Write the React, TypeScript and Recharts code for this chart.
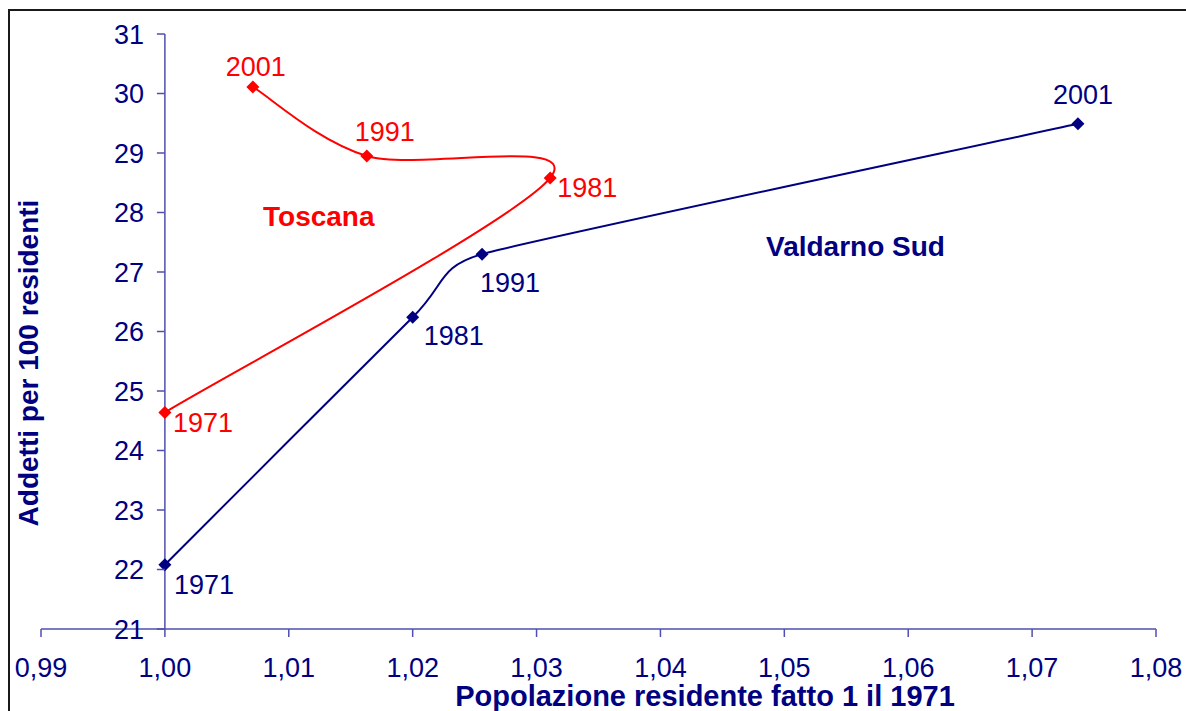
// Addetti per 100 residenti vs popolazione (1971 = 1), Toscana e Valdarno Sud.
// Excel-style chart: smoothed lines, diamond markers, Y axis crossing at 1,00.
import { ReferenceLine, Scatter, ScatterChart, XAxis, YAxis } from "recharts";

const years = ["1971", "1981", "1991", "2001"];
const toscanaPop = [1.0, 1.0311, 1.0163, 1.0071];
const toscanaAddetti = [24.64, 28.58, 28.95, 30.11];
const valdarnoPop = [1.0, 1.02, 1.0256, 1.0737];
const valdarnoAddetti = [22.08, 26.24, 27.3, 29.49];
const xTicks = [0.99, 1.0, 1.01, 1.02, 1.03, 1.04, 1.05, 1.06, 1.07, 1.08];
const yTicks = [21, 22, 23, 24, 25, 26, 27, 28, 29, 30, 31];

const FONT = '"Liberation Sans", Arial, sans-serif';
const NAVY = "#000080";
const RED = "#FF0000";
const AXIS = "#4f4fae";

const W = 1186;
const H = 711;
const MARGIN = { top: 34, right: 30, bottom: 32, left: 0 };
const Y_AXIS_W = 41;
const X_DOMAIN: [number, number] = [0.99, 1.08];
// pixel x of the value axis (it crosses the category axis at 1,00)
const PLOT_W = W - MARGIN.left - MARGIN.right - Y_AXIS_W;
const AXIS_X = MARGIN.left + Y_AXIS_W + ((1.0 - X_DOMAIN[0]) / (X_DOMAIN[1] - X_DOMAIN[0])) * PLOT_W;

const toscana = years.map((year, i) => ({ year, x: toscanaPop[i], y: toscanaAddetti[i] }));
const valdarno = years.map((year, i) => ({ year, x: valdarnoPop[i], y: valdarnoAddetti[i] }));

type Place = { dx: number; dy: number; anchor: "start" | "middle" };
const toscanaLabels: Record<string, Place> = {
  "1971": { dx: 8, dy: 20, anchor: "start" },
  "1981": { dx: 7, dy: 19, anchor: "start" },
  "1991": { dx: -12, dy: -15, anchor: "start" },
  "2001": { dx: 3, dy: -11, anchor: "middle" },
};
const valdarnoLabels: Record<string, Place> = {
  "1971": { dx: 9, dy: 29, anchor: "start" },
  "1981": { dx: 11, dy: 28, anchor: "start" },
  "1991": { dx: -2, dy: 38, anchor: "start" },
  "2001": { dx: 5, dy: -20, anchor: "middle" },
};

const fmt = (v: number) => v.toFixed(2).replace(".", ",");

type Pt = { x: number; y: number };
const dist = (a: Pt, b: Pt) => Math.hypot(b.x - a.x, b.y - a.y);

// Tangent handle at p1 (Catmull-Rom 1/6), capped at half of the
// neighbouring segments the way Excel's smoothing does.
function handle(p0: Pt, p1: Pt, p2: Pt): Pt {
  const d02 = dist(p0, p2);
  if (d02 === 0) return { x: 0, y: 0 };
  const len = Math.min(d02 / 6, dist(p0, p1) / 2 || Infinity, dist(p1, p2) / 2 || Infinity);
  return { x: ((p2.x - p0.x) / d02) * len, y: ((p2.y - p0.y) / d02) * len };
}

function smoothPath(pts: Pt[]): string {
  if (pts.length === 0) return "";
  let d = `M${pts[0].x},${pts[0].y}`;
  for (let i = 0; i < pts.length - 1; i++) {
    const p0 = pts[i - 1] ?? pts[i];
    const p1 = pts[i];
    const p2 = pts[i + 1];
    const p3 = pts[i + 2] ?? p2;
    const h1 = handle(p0, p1, p2);
    const h2 = handle(p1, p2, p3);
    d += ` C${p1.x + h1.x},${p1.y + h1.y} ${p2.x - h2.x},${p2.y - h2.y} ${p2.x},${p2.y}`;
  }
  return d;
}

const smoothLine = (color: string) => (props: any) => (
  <path d={smoothPath(props.points ?? [])} fill="none" stroke={color} strokeWidth={2} />
);

const diamondWithYear = (color: string, places: Record<string, Place>) => (props: any) => {
  const { cx, cy, payload } = props;
  const p = places[payload.year];
  const r = 6.5;
  return (
    <g>
      <polygon points={`${cx},${cy - r} ${cx + r},${cy} ${cx},${cy + r} ${cx - r},${cy}`} fill={color} />
      <text x={cx + p.dx} y={cy + p.dy} textAnchor={p.anchor} fill={color} fontSize={27} fontFamily={FONT}>
        {payload.year}
      </text>
    </g>
  );
};

function YTick(props: any) {
  const { y, payload } = props;
  return (
    <g>
      <line x1={AXIS_X - 8} x2={AXIS_X} y1={y} y2={y} stroke={AXIS} strokeWidth={1.5} />
      <text x={144} y={y} dy="0.36em" textAnchor="end" fill={NAVY} fontSize={27} fontFamily={FONT}>
        {payload.value}
      </text>
    </g>
  );
}

export default function App() {
  return (
    <div
      style={{
        position: "absolute",
        left: 0,
        top: 0,
        width: W,
        height: H,
        overflow: "hidden",
        background: "#fff",
      }}
    >
      <div
        style={{
          position: "absolute",
          left: 8,
          top: 9,
          width: W + 40,
          height: H + 40,
          borderLeft: "2px solid #1a1a1a",
          borderTop: "2px solid #1a1a1a",
        }}
      />
      <div style={{ position: "absolute", left: 0, top: 0 }}>
        <ScatterChart width={W} height={H} margin={MARGIN}>
          <XAxis
            type="number"
            dataKey="x"
            domain={X_DOMAIN}
            ticks={xTicks}
            interval={0}
            tickFormatter={fmt}
            tick={{ fill: NAVY, fontSize: 27, fontFamily: FONT }}
            tickLine={{ stroke: AXIS, strokeWidth: 1.5 }}
            axisLine={{ stroke: AXIS, strokeWidth: 1.5 }}
            tickSize={8}
            tickMargin={21}
            height={50}
          />
          <YAxis
            type="number"
            dataKey="y"
            domain={[21, 31]}
            ticks={yTicks}
            interval={0}
            width={Y_AXIS_W}
            axisLine={false}
            tickLine={false}
            tick={<YTick />}
          />
          <ReferenceLine x={1} stroke={AXIS} strokeWidth={1.5} />
          <Scatter
            data={toscana}
            fill={RED}
            line={smoothLine(RED)}
            lineType="joint"
            shape={diamondWithYear(RED, toscanaLabels)}
            isAnimationActive={false}
          />
          <Scatter
            data={valdarno}
            fill={NAVY}
            line={smoothLine(NAVY)}
            lineType="joint"
            shape={diamondWithYear(NAVY, valdarnoLabels)}
            isAnimationActive={false}
          />
        </ScatterChart>
      </div>
      <svg
        width={W}
        height={H}
        style={{ position: "absolute", left: 0, top: 0, pointerEvents: "none" }}
      >
        <g fontFamily={FONT} fontWeight="bold" fontSize={28}>
          <text x={263} y={226} fill={RED}>
            Toscana
          </text>
          <text x={766} y={256} fill={NAVY}>
            Valdarno Sud
          </text>
          <text x={705} y={706} textAnchor="middle" fill={NAVY} fontSize={29}>
            Popolazione residente fatto 1 il 1971
          </text>
          <text x={38} y={363} textAnchor="middle" fill={NAVY} transform="rotate(-90 38 363)">
            Addetti per 100 residenti
          </text>
        </g>
      </svg>
    </div>
  );
}
